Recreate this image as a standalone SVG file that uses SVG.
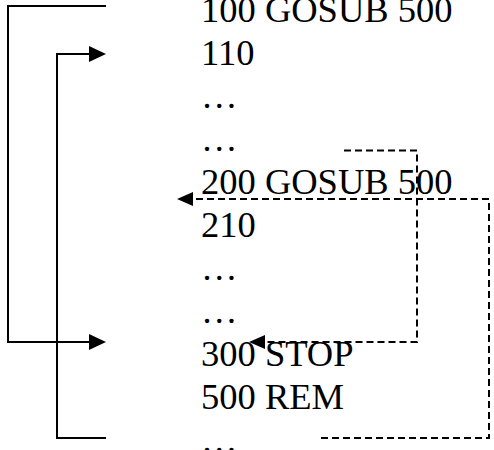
<svg xmlns="http://www.w3.org/2000/svg" width="494" height="450" viewBox="0 0 494 450">
<style>
text{font-family:"Liberation Serif","Times New Roman",serif;font-size:36.5px;fill:#000}
.s{fill:none;stroke:#000;stroke-width:2}
.d{fill:none;stroke:#000;stroke-width:2;stroke-dasharray:7,4}
.h{fill:#000}
</style>
<rect width="494" height="450" fill="#fff"/>
<g id="lines">
<text x="201" y="22">100 GOSUB 500</text>
<text x="201" y="65">110</text>
<text x="201" y="108">…</text>
<text x="201" y="151">…</text>
<text x="201" y="194">200 GOSUB 500</text>
<text x="201" y="237">210</text>
<text x="201" y="280">…</text>
<text x="201" y="323">…</text>
<text x="201" y="366">300 STOP</text>
<text x="201" y="409">500 REM</text>
<text x="201" y="452">…</text>
</g>
<g id="connectors">
<path class="s" d="M106,6 H8 V342 H90"/>
<polygon class="h" points="106,342 89,334 89,350"/>
<path class="s" d="M106,438 H57 V54 H90"/>
<polygon class="h" points="106,54 89,46 89,62"/>
<path class="d" d="M344,150.5 H417 V342 H262"/>
<polygon class="h" points="249,342 265,335 265,349"/>
<path class="d" d="M321,438 H489 V199 H192"/>
<polygon class="h" points="177,199 193,192 193,206"/>
</g>
</svg>
